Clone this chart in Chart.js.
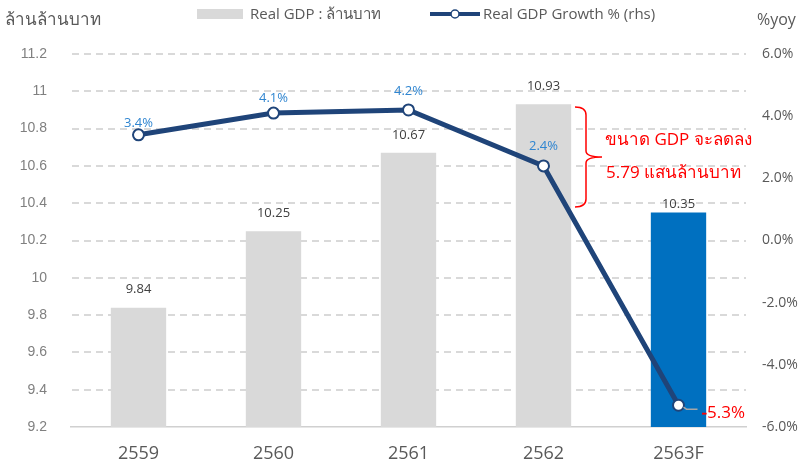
<!DOCTYPE html>
<html>
<head>
<meta charset="utf-8">
<script src="https://cdn.jsdelivr.net/npm/chart.js@4.4.1/dist/chart.umd.min.js"></script>
<style>
html,body{margin:0;padding:0;background:#fff;}
#wrap{width:799px;height:466px;position:relative;}
</style>
</head>
<body>
<div id="wrap"><canvas id="c" width="799" height="466"></canvas></div>
<script>
const categories = ['2559', '2560', '2561', '2562', '2563F'];
const gdpValues = [9.84, 10.25, 10.67, 10.93, 10.35];
const growthValues = [3.4, 4.1, 4.2, 2.4, -5.3];
const gdpLabels = ['9.84', '10.25', '10.67', '10.93', '10.35'];
const growthLabels = ['3.4%', '4.1%', '4.2%', '2.4%', '-5.3%'];
const leftTicks = {min: 9.2, max: 11.2, step: 0.2};
const rightTicks = {min: -6, max: 6, step: 2};

const FONT = '"Open Sans", "Noto Sans", "DejaVu Sans", sans-serif';
const barColors = ['#d9d9d9', '#d9d9d9', '#d9d9d9', '#d9d9d9', '#0070c0'];
const lineColor = '#1f4479';

const gridPlugin = {
  id: 'dashGrid',
  beforeDatasetsDraw(chart) {
    const ctx = chart.ctx;
    const s = chart.scales.y;
    const a = chart.chartArea;
    ctx.save();
    ctx.strokeStyle = '#d9d9d9';
    ctx.lineWidth = 2;
    ctx.setLineDash([7, 5]);
    s.ticks.forEach(t => {
      if (Math.abs(t.value - leftTicks.min) < 1e-6) return;
      const y = Math.round(s.getPixelForValue(t.value));
      ctx.beginPath();
      ctx.moveTo(a.left + 1, y);
      ctx.lineTo(a.right, y);
      ctx.stroke();
    });
    ctx.restore();
  }
};

const overlay = {
  id: 'overlay',
  afterDatasetsDraw(chart) {
    const ctx = chart.ctx;
    ctx.save();
    // bar labels
    const bm = chart.getDatasetMeta(0);
    ctx.font = '13px ' + FONT;
    ctx.fillStyle = '#404040';
    ctx.textAlign = 'center';
    ctx.textBaseline = 'middle';
    bm.data.forEach((el, i) => {
      const off = i === 4 ? 8 : 18;
      ctx.fillText(gdpLabels[i], el.x, el.y - off);
    });
    // line labels
    const lm = chart.getDatasetMeta(1);
    lm.data.forEach((el, i) => {
      if (i === 4) {
        ctx.strokeStyle = '#a6a6a6';
        ctx.lineWidth = 1.5;
        ctx.beginPath();
        ctx.moveTo(el.x + 5, el.y + 2);
        ctx.lineTo(el.x + 8, el.y + 4);
        ctx.lineTo(el.x + 19, el.y + 4);
        ctx.stroke();
        ctx.font = '17px ' + FONT;
        ctx.fillStyle = '#ff0000';
        ctx.strokeStyle = '#ff0000';
        ctx.lineWidth = 0.4;
        ctx.textAlign = 'left';
        ctx.fillText(growthLabels[i], el.x + 23, el.y + 8);
        ctx.strokeText(growthLabels[i].charAt(0), el.x + 23, el.y + 8);
      } else {
        ctx.font = '13px ' + FONT;
        ctx.fillStyle = '#2f85d0';
        ctx.textAlign = 'center';
        const off = [12, 15, 19, 20][i];
        ctx.fillText(growthLabels[i], el.x, el.y - off);
      }
    });
    // bracket
    ctx.strokeStyle = '#ff0000';
    ctx.lineWidth = 1.5;
    ctx.beginPath();
    const bx = 586, top = 107, bot = 207, mid = 157;
    ctx.moveTo(bx - 11, top);
    ctx.quadraticCurveTo(bx, top, bx, top + 8);
    ctx.lineTo(bx, mid - 6);
    ctx.quadraticCurveTo(bx, mid, bx + 16, mid);
    ctx.quadraticCurveTo(bx, mid, bx, mid + 6);
    ctx.lineTo(bx, bot - 8);
    ctx.quadraticCurveTo(bx, bot, bx - 11, bot);
    ctx.stroke();
    ctx.fillStyle = '#ff0000';
    ctx.font = '17px ' + FONT;
    ctx.textAlign = 'left';
    ctx.textBaseline = 'middle';
    ctx.fillText('ขนาด GDP จะลดลง', 605, 140);
    ctx.fillText('5.79 แสนล้านบาท', 606, 173);
    ctx.restore();
  },
  afterDraw(chart) {
    const ctx = chart.ctx;
    ctx.save();
    ctx.textBaseline = 'middle';
    ctx.fillStyle = '#595959';
    ctx.font = '17px ' + FONT;
    ctx.textAlign = 'left';
    ctx.fillText('ล้านล้านบาท', 5, 20);
    ctx.font = '16px ' + FONT;
    ctx.fillText('%yoy', 757, 20);
    // legend
    ctx.fillStyle = '#d9d9d9';
    ctx.fillRect(197, 9, 46, 10);
    ctx.fillStyle = '#595959';
    ctx.font = '15px ' + FONT;
    ctx.fillText('Real GDP : ล้านบาท', 250, 15);
    ctx.strokeStyle = lineColor;
    ctx.lineWidth = 4;
    ctx.beginPath();
    ctx.moveTo(430, 14);
    ctx.lineTo(480, 14);
    ctx.stroke();
    ctx.beginPath();
    ctx.arc(455, 14, 4, 0, Math.PI * 2);
    ctx.fillStyle = '#fff';
    ctx.fill();
    ctx.lineWidth = 1.5;
    ctx.stroke();
    ctx.fillStyle = '#595959';
    ctx.fillText('Real GDP Growth % (rhs)', 483, 15);
    ctx.restore();
  }
};

new Chart(document.getElementById('c'), {
  data: {
    labels: categories,
    datasets: [
      {
        type: 'bar',
        label: 'Real GDP : ล้านบาท',
        data: gdpValues,
        backgroundColor: barColors,
        yAxisID: 'y',
        order: 2,
        barPercentage: 0.82,
        categoryPercentage: 0.5
      },
      {
        type: 'line',
        label: 'Real GDP Growth % (rhs)',
        data: growthValues,
        borderColor: lineColor,
        borderWidth: 5,
        pointRadius: 5.5,
        pointBorderWidth: 2,
        pointBackgroundColor: '#ffffff',
        pointBorderColor: lineColor,
        tension: 0,
        yAxisID: 'y1',
        order: 1
      }
    ]
  },
  options: {
    responsive: false,
    animation: false,
    layout: {padding: {top: 54, left: 0, right: 0, bottom: 0}},
    plugins: {legend: {display: false}, tooltip: {enabled: false}, title: {display: false}},
    scales: {
      x: {
        grid: {display: false, drawTicks: false},
        border: {display: true, color: '#d0d0d0', width: 1.5},
        ticks: {color: '#595959', font: {family: FONT, size: 18}, padding: 16},
        afterFit(s) { s.height = 39; }
      },
      y: {
        position: 'left',
        min: leftTicks.min, max: leftTicks.max,
        ticks: {
          stepSize: leftTicks.step,
          color: '#808080',
          font: {family: '"Liberation Sans", Arial, sans-serif', size: 14},
          padding: 24,
          callback: v => String(Number(v.toFixed(1)))
        },
        grid: {display: false, drawTicks: false},
        border: {display: false},
        afterFit(s) { s.width = 71; }
      },
      y1: {
        position: 'right',
        min: rightTicks.min, max: rightTicks.max,
        ticks: {
          stepSize: rightTicks.step,
          color: '#595959',
          font: {family: FONT, size: 14},
          padding: 16,
          callback: v => v.toFixed(1) + '%'
        },
        grid: {display: false, drawOnChartArea: false, drawTicks: false},
        border: {display: false},
        afterFit(s) { s.width = 53; }
      }
    }
  },
  plugins: [gridPlugin, overlay]
});
</script>
</body>
</html>
